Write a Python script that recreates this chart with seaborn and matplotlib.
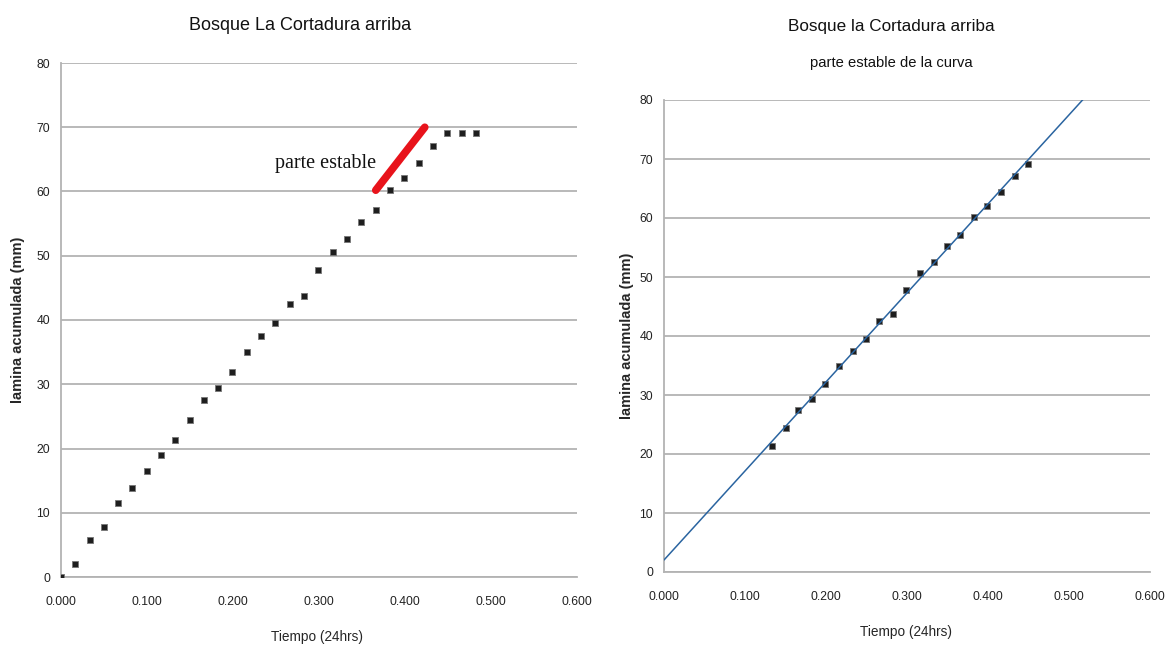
import numpy as np
import pandas as pd
import matplotlib
matplotlib.use("Agg")
import matplotlib.pyplot as plt
import seaborn as sns

# Cumulative infiltration readings (time as fraction of a day, depth in mm)
tiempo = [0.000, 0.016, 0.034, 0.050, 0.066, 0.083, 0.100, 0.116, 0.133, 0.150,
          0.166, 0.183, 0.199, 0.216, 0.233, 0.249, 0.266, 0.283, 0.299, 0.316,
          0.333, 0.349, 0.366, 0.383, 0.399, 0.416, 0.433, 0.449, 0.466, 0.483]
lamina = [0.0, 2.0, 5.8, 7.8, 11.5, 13.9, 16.5, 19.0, 21.3, 24.4,
          27.5, 29.4, 31.9, 35.0, 37.5, 39.5, 42.5, 43.7, 47.8, 50.6,
          52.6, 55.3, 57.1, 60.2, 62.1, 64.4, 67.1, 69.1, 69.1, 69.1]
# Stable part of the curve used for the linear fit
estable_inicio, estable_fin = 8, 28
# Highlighted stretch on the left panel
tramo_x = [0.366, 0.423]
tramo_y = [60.2, 70.0]

x_ticks = [0.0, 0.1, 0.2, 0.3, 0.4, 0.5, 0.6]
y_ticks = [0, 10, 20, 30, 40, 50, 60, 70, 80]

df = pd.DataFrame({"tiempo": tiempo, "lamina": lamina})
df_est = df.iloc[estable_inicio:estable_fin]

sns.set_style("white")
plt.rcParams["font.family"] = ["Liberation Sans", "DejaVu Sans"]

fig = plt.figure(figsize=(11.71, 6.47), dpi=100)
ax1 = fig.add_axes([61/1171, 1 - 577/647, 516/1171, 514/647])
ax2 = fig.add_axes([664/1171, 1 - 572/647, 486/1171, 472/647])

grid_c = "#b3b3b3"
marker_kw = dict(marker="s", s=22, color="#1e1e1e", edgecolor="#777777", linewidth=0.6)


def style_axes(ax):
    ax.set_xlim(0, 0.6)
    ax.set_ylim(0, 80)
    ax.set_xticks(x_ticks)
    ax.set_yticks(y_ticks)
    ax.set_xticklabels([f"{v:.3f}" for v in x_ticks])
    ax.grid(axis="y", color=grid_c, linewidth=1.3)
    ax.grid(axis="x", visible=False)
    ax.set_axisbelow(True)
    for side in ("top", "right"):
        ax.spines[side].set_visible(False)
    for side in ("left", "bottom"):
        ax.spines[side].set_color(grid_c)
        ax.spines[side].set_linewidth(1.3)
    ax.tick_params(axis="both", which="both", length=5, width=1, color=grid_c,
                   labelsize=8.8, labelcolor="#222222", direction="out")
    ax.tick_params(axis="x", pad=9)
    ax.tick_params(axis="y", pad=3)


# Left panel: full infiltration curve
style_axes(ax1)
sns.scatterplot(data=df, x="tiempo", y="lamina", ax=ax1, zorder=3, **marker_kw)
sns.lineplot(x=tramo_x, y=tramo_y, ax=ax1, color="#e8131b", linewidth=5.5,
             solid_capstyle="round", zorder=4)
ax1.text(0.249, 64.4, "parte estable", family="Liberation Serif", fontsize=14.5,
         va="center", ha="left", color="#111111")
ax1.set_xlabel("Tiempo (24hrs)", fontsize=9.8)
ax1.set_ylabel("lamina acumulada (mm)", fontsize=10.5, fontweight="bold")
ax1.xaxis.set_label_coords(0.497, -0.103)
ax1.yaxis.set_label_coords(-0.07, 0.5)

# Right panel: stable part with linear trend
style_axes(ax2)
sns.regplot(data=df_est, x="tiempo", y="lamina", ax=ax2, ci=None, truncate=False,
            marker="s",
            scatter_kws=dict(s=22, color="#1e1e1e", edgecolor="#777777",
                             linewidths=0.6, zorder=3, alpha=1),
            line_kws=dict(color="#2a64a0", linewidth=1.1, zorder=4))
ax2.set_xlim(0, 0.6)
ax2.set_ylim(0, 80)
ax2.set_xlabel("Tiempo (24hrs)", fontsize=9.8)
ax2.set_ylabel("lamina acumulada (mm)", fontsize=10.5, fontweight="bold")
ax2.xaxis.set_label_coords(0.497, -0.112)
ax2.yaxis.set_label_coords(-0.062, 0.5)

fig.text(300/1171, 1 - 25/647, "Bosque La Cortadura arriba", ha="center",
         va="center", fontsize=13, color="#111111")
fig.text(891/1171, 1 - 27/647, "Bosque la Cortadura arriba", ha="center",
         va="center", fontsize=12.3, color="#111111")
fig.text(891/1171, 1 - 63/647, "parte estable de la curva", ha="center",
         va="center", fontsize=10.6, color="#111111")

fig.savefig("out.png", dpi=100, facecolor="white")
